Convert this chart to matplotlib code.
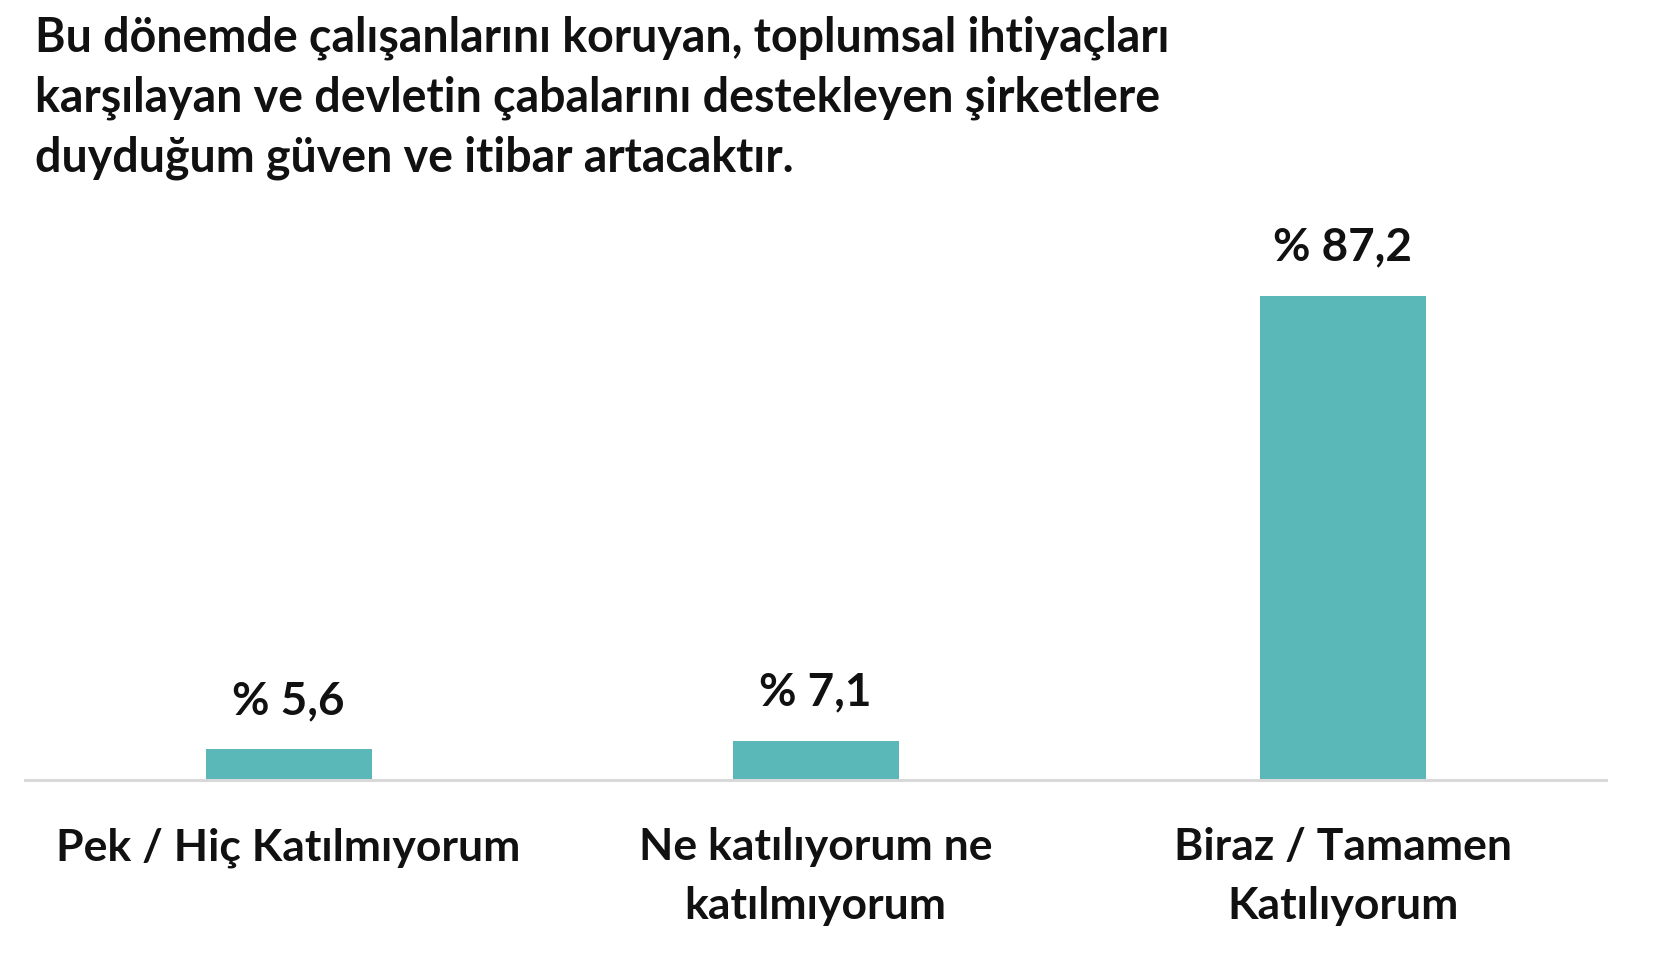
import matplotlib
matplotlib.use("Agg")
import matplotlib.pyplot as plt
import numpy as np

categories = ["Pek / Hiç Katılmıyorum", "Ne katılıyorum ne\nkatılmıyorum", "Biraz / Tamamen\nKatılıyorum"]
values = [5.6, 7.1, 87.2]
value_labels = ["% 5,6", "% 7,1", "% 87,2"]
title_lines = [
    "Bu dönemde çalışanlarını koruyan, toplumsal ihtiyaçları",
    "karşılayan ve devletin çabalarını destekleyen şirketlere",
    "duyduğum güven ve itibar artacaktır.",
]

plt.rcParams['font.family'] = ['Lato', 'DejaVu Sans']

fig = plt.figure(figsize=(16.62, 9.8), dpi=100)
ax = fig.add_axes([0.0151, 0.2040, 0.9513, 0.5670])

x = np.arange(len(categories))
ax.bar(x, values, width=0.315, color="#5BB8B8", zorder=2)

ax.set_xlim(-0.5, 2.5)
ax.set_ylim(0, 100)
for s in ["top", "right", "left"]:
    ax.spines[s].set_visible(False)
ax.spines["bottom"].set_color("#D9D9D9")
ax.spines["bottom"].set_linewidth(2.2)
ax.set_yticks([])
ax.set_xticks(x, categories, fontsize=32, fontweight="bold", color="#111111", linespacing=1.58)
ax.tick_params(axis="x", length=0, pad=34)

for xi, v, lab in zip(x, values, value_labels):
    ax.annotate(lab, (xi, v), xytext=(0, 34.5), textcoords="offset points",
                ha="center", va="center", fontsize=33, fontweight="bold", color="#111111")

fig.text(35 / 1662, 1 - 15 / 980, "\n".join(title_lines), ha="left", va="top",
         fontsize=33.5, fontweight="bold", color="#111111", linespacing=1.44)

fig.savefig("out.png", dpi=100, facecolor="white")
